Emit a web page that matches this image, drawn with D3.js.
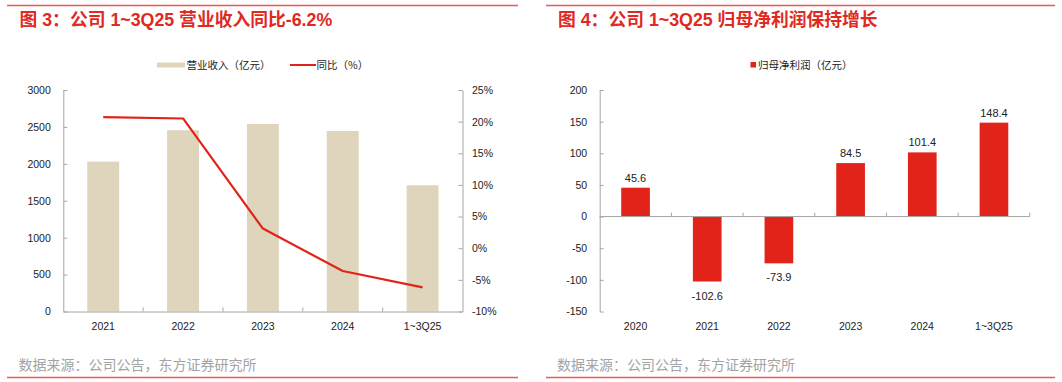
<!DOCTYPE html>
<html><head><meta charset="utf-8">
<script src="https://cdn.jsdelivr.net/npm/d3@7"></script>
<style>
html,body{margin:0;padding:0;background:#fff;}
svg{display:block;font-family:"Liberation Sans",Arial,"Noto Sans CJK SC",sans-serif;}
</style></head><body>
<svg id="c" width="1062" height="382"></svg>
<script>
// ---- data ----
const revCats = ["2021","2022","2023","2024","1~3Q25"];
const revValues = [2030, 2455, 2540, 2445, 1710];
const revYoY = [20.7, 20.5, 3.1, -3.6, -6.2];
const revTicks = [0,500,1000,1500,2000,2500,3000];
const yoyTicks = [-10,-5,0,5,10,15,20,25];

const npCats = ["2020","2021","2022","2023","2024","1~3Q25"];
const npValues = [45.6, -102.6, -73.9, 84.5, 101.4, 148.4];
const npTicks = [-150,-100,-50,0,50,100,150,200];

const title1 = "图 3：公司 1~3Q25 营业收入同比-6.2%";
const title2 = "图 4：公司 1~3Q25 归母净利润保持增长";
const source = "数据来源：公司公告，东方证券研究所";
const legRev = "营业收入（亿元）", legYoY = "同比（%）", legNp = "归母净利润（亿元）";

// ---- styles ----
const RED = "#e2231a", BEIGE = "#ded5bc", AX = "#a6a6a6", TXT = "#222";
const svg = d3.select("#c");
const CJK = "'Noto Sans CJK SC','Liberation Sans',sans-serif";

function frame(x0, x1, tx, title, sx) {
  svg.append("line").attr("x1",x0).attr("x2",x1).attr("y1",5.5).attr("y2",5.5)
    .attr("stroke","#ea5a50").attr("stroke-width",1.5);
  svg.append("line").attr("x1",x0).attr("x2",x1).attr("y1",377.5).attr("y2",377.5)
    .attr("stroke","#ea5a50").attr("stroke-width",1.5);
  svg.append("text").attr("x",tx).attr("y",26).text(title)
    .attr("fill","#e0291f").attr("font-size",17.8).attr("font-weight","bold")
    .style("font-family","'Liberation Sans','Noto Sans CJK SC',sans-serif");
  svg.append("text").attr("x",sx).attr("y",370).text(source)
    .attr("fill","#a3a3a3").attr("font-size",14).style("font-family",CJK);
}
frame(7, 518, 19.5, title1, 18.5);
frame(546, 1055, 558, title2, 557);

const yTop = 90, yBot = 311.5;

function styleAxis(g){
  g.select(".domain").attr("stroke",AX);
  g.selectAll(".tick line").attr("stroke",AX);
  g.selectAll(".tick text").attr("fill",TXT).attr("font-size",10.5);
}

// ===== Left chart =====
{
  const x = d3.scaleBand().domain(revCats).range([63.3, 462.5]).padding(0);
  const y = d3.scaleLinear().domain([0,3000]).range([yBot,yTop]);
  const y2 = d3.scaleLinear().domain([-10,25]).range([yBot,yTop]);
  const bw = x.bandwidth()*0.4;

  svg.append("g").selectAll("rect").data(revValues).join("rect")
    .attr("x",(d,i)=>x(revCats[i])+x.bandwidth()/2-bw/2)
    .attr("y",d=>y(d)).attr("width",bw).attr("height",d=>yBot-y(d))
    .attr("fill",BEIGE);

  const gl = svg.append("g").attr("transform",`translate(63.3,0)`)
    .call(d3.axisLeft(y).tickValues(revTicks).tickSize(-4).tickPadding(12.5).tickSizeOuter(0)
      .tickFormat(d=>String(d)));
  styleAxis(gl);
  const gr = svg.append("g").attr("transform",`translate(462.5,0)`)
    .call(d3.axisRight(y2).tickValues(yoyTicks).tickSize(-4).tickPadding(9.5).tickSizeOuter(0)
      .tickFormat(d=>d+"%"));
  styleAxis(gr);
  const gx = svg.append("g").attr("transform",`translate(0,${yBot})`)
    .call(d3.axisBottom(x).tickSize(0).tickPadding(11));
  styleAxis(gx);
  // boundary ticks (inward)
  svg.append("g").selectAll("line").data(revCats.slice(1)).join("line")
    .attr("x1",d=>x(d)).attr("x2",d=>x(d)).attr("y1",yBot).attr("y2",yBot-4)
    .attr("stroke",AX);

  const line = d3.line().x((d,i)=>x(revCats[i])+x.bandwidth()/2).y(d=>y2(d));
  svg.append("path").datum(revYoY).attr("d",line).attr("fill","none")
    .attr("stroke",RED).attr("stroke-width",2.2).attr("stroke-linejoin","round");

  // legend
  svg.append("rect").attr("x",157).attr("y",62.5).attr("width",28).attr("height",5).attr("fill",BEIGE);
  svg.append("text").attr("x",186.5).attr("y",69).text(legRev).attr("font-size",10.5).attr("fill",TXT).style("font-family",CJK);
  svg.append("line").attr("x1",290).attr("x2",316).attr("y1",65).attr("y2",65).attr("stroke",RED).attr("stroke-width",2);
  svg.append("text").attr("x",316.5).attr("y",69).text(legYoY).attr("font-size",10.5).attr("fill",TXT).style("font-family",CJK);
}

// ===== Right chart =====
{
  const x = d3.scaleBand().domain(npCats).range([599.7, 1029.8]).padding(0);
  const y = d3.scaleLinear().domain([-150,200]).range([yBot,yTop]);
  const bw = x.bandwidth()*0.4;
  const y0 = y(0);

  svg.append("g").selectAll("rect").data(npValues).join("rect")
    .attr("x",(d,i)=>x(npCats[i])+x.bandwidth()/2-bw/2)
    .attr("y",d=>Math.min(y(d),y0)).attr("width",bw).attr("height",d=>Math.abs(y(d)-y0))
    .attr("fill",RED);

  svg.append("g").selectAll("text").data(npValues).join("text")
    .attr("x",(d,i)=>x(npCats[i])+x.bandwidth()/2)
    .attr("y",d=> d>=0 ? y(d)-6 : y(d)+18)
    .attr("text-anchor","middle").attr("font-size",11).attr("fill",TXT)
    .text(d=>d.toFixed(1));

  const gl = svg.append("g").attr("transform",`translate(599.7,0)`)
    .call(d3.axisLeft(y).tickValues(npTicks).tickSize(-4).tickPadding(12.5).tickSizeOuter(0)
      .tickFormat(d=>String(d)));
  styleAxis(gl);
  // category axis at zero
  svg.append("line").attr("x1",599.7).attr("x2",1029.8).attr("y1",y0).attr("y2",y0).attr("stroke",AX);
  svg.append("g").selectAll("line").data(npCats.slice(1).concat(["__end"])).join("line")
    .attr("x1",d=>d==="__end"?1029.8:x(d)).attr("x2",d=>d==="__end"?1029.8:x(d))
    .attr("y1",y0).attr("y2",y0-4).attr("stroke",AX);
  svg.append("g").selectAll("text").data(npCats).join("text")
    .attr("x",d=>x(d)+x.bandwidth()/2).attr("y",330)
    .attr("text-anchor","middle").attr("font-size",10.5).attr("fill",TXT).text(d=>d);

  // legend
  svg.append("rect").attr("x",750.5).attr("y",62).attr("width",5.5).attr("height",5.5).attr("fill",RED);
  svg.append("text").attr("x",758).attr("y",69).text(legNp).attr("font-size",10.5).attr("fill",TXT).style("font-family",CJK);
}
</script>
</body></html>
